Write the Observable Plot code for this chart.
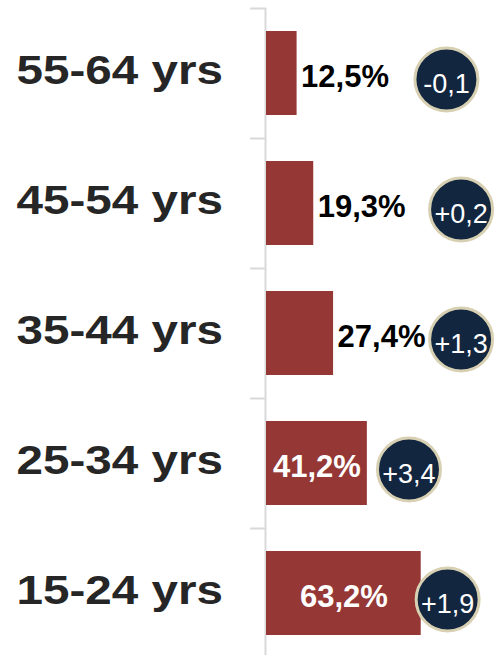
<!DOCTYPE html>
<html>
<head>
<meta charset="utf-8">
<script src="https://cdn.jsdelivr.net/npm/d3@7"></script>
<script src="https://cdn.jsdelivr.net/npm/@observablehq/plot@0.6"></script>
<style>
  html, body { margin: 0; padding: 0; background: #ffffff; }
  svg { display: block; }
</style>
</head>
<body>
<script>
// Data
const ages = ["55-64 yrs", "45-54 yrs", "35-44 yrs", "25-34 yrs", "15-24 yrs"];
const shares = [12.5, 19.3, 27.4, 41.2, 63.2];
const changes = ["-0,1", "+0,2", "+1,3", "+3,4", "+1,9"];

const data = ages.map((age, i) => ({
  age,
  share: shares[i],
  label: shares[i].toFixed(1).replace(".", ",") + "%",
  change: changes[i]
}));

const insideThreshold = 35;
const isInside = d => d.share >= insideThreshold;
// badge placement rule: just past the value label, kept inside the frame
const badgeX = d => isInside(d) ? Math.min(d.share + 17, 74) : Math.min(d.share + 61, 79.5);

const yRange = [8, 658];
const step = (yRange[1] - yRange[0]) / ages.length;

const chart = Plot.plot({
  width: 501,
  height: 655,
  marginLeft: 266,
  marginRight: 0,
  marginTop: 8,
  marginBottom: 0,
  x: { domain: [0, 96], axis: null },
  y: { domain: ages, range: yRange, paddingInner: 0.354, paddingOuter: 0.177, axis: null },
  style: { fontFamily: "'Liberation Sans', Arial, sans-serif", background: "#ffffff", overflow: "visible" },
  marks: [
    // boundary ticks
    Plot.ruleY(ages, { y: d => d, x1: -6.5, x2: 0, dy: -step / 2, stroke: "#d9d9d9", strokeWidth: 2 }),
    // axis line
    Plot.ruleX([0], { stroke: "#d9d9d9", strokeWidth: 2, dx: -1 }),
    // bars
    Plot.barX(data, { x: "share", y: "age", fill: "#953735" }),
    // category labels
    Plot.text(data, {
      y: "age", text: "age", frameAnchor: "left", textAnchor: "start",
      dx: 16 - 266, dy: -2.5, fontSize: 40, fontWeight: "bold", fill: "#262626"
    }),
    // value labels outside
    Plot.text(data.filter(d => !isInside(d)), {
      x: "share", y: "age", text: "label", textAnchor: "start",
      dx: 4, dy: 4, fontSize: 31, fontWeight: "bold", fill: "#000000"
    }),
    // value labels inside
    Plot.text(data.filter(isInside), {
      x: d => d.share / 2, y: "age", text: "label",
      dy: 4, fontSize: 31, fontWeight: "bold", fill: "#ffffff"
    }),
    // change badges
    Plot.dot(data, {
      x: badgeX, y: "age", r: 31.5, fill: "#13263f", stroke: "#d8d0b2", strokeWidth: 3, dy: 6
    }),
    Plot.text(data, {
      x: badgeX, y: "age", text: "change", fill: "#ffffff", fontSize: 27, dy: 11
    })
  ]
});

document.body.append(chart);

// horizontally widen the category labels like the reference
chart.querySelectorAll("text").forEach(t => {
  if (ages.includes(t.textContent)) {
    const len = t.getComputedTextLength();
    t.setAttribute("textLength", (len * 1.19).toFixed(1));
    t.setAttribute("lengthAdjust", "spacingAndGlyphs");
  }
});
</script>
</body>
</html>
